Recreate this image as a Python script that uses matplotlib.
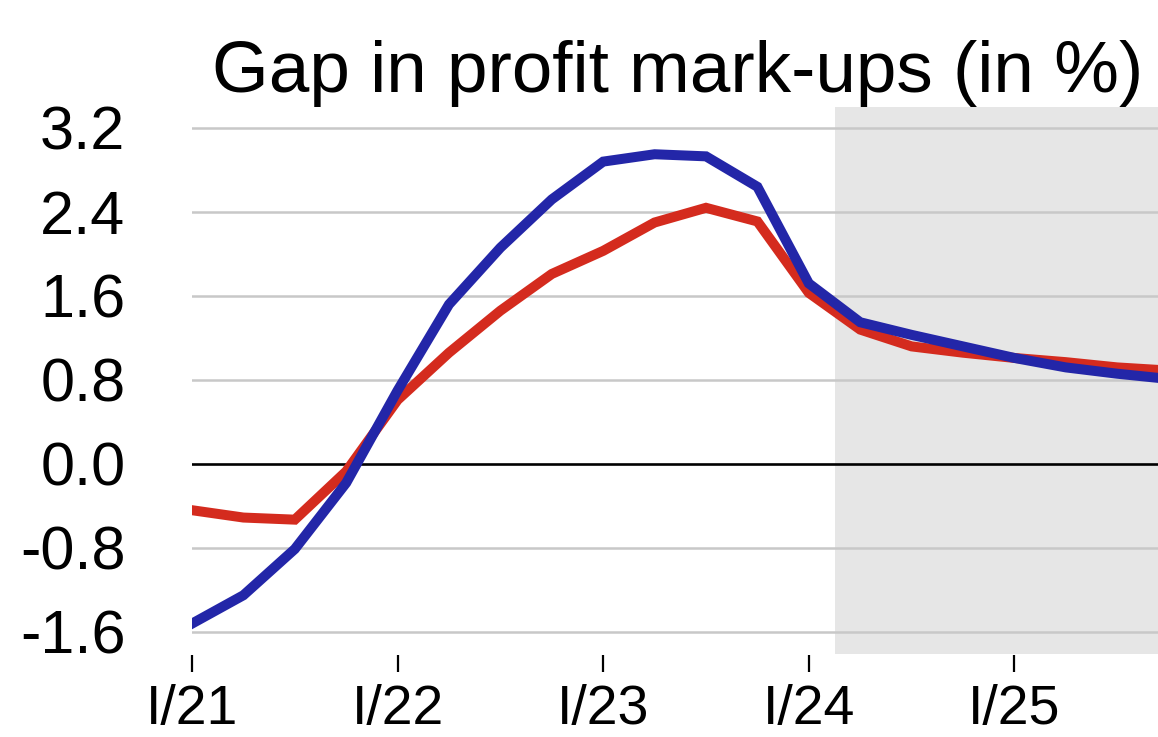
import matplotlib
matplotlib.use("Agg")
import matplotlib.pyplot as plt
import numpy as np

plt.rcParams['font.family'] = ['Liberation Sans', 'DejaVu Sans']

quarters = np.arange(20)  # I/21 ... IV/25
blue_values = [-1.52, -1.25, -0.81, -0.18, 0.70, 1.52, 2.06, 2.52, 2.88, 2.95, 2.93, 2.64,
               1.72, 1.35, 1.23, 1.12, 1.01, 0.92, 0.86, 0.81]
red_values = [-0.44, -0.51, -0.53, -0.07, 0.61, 1.06, 1.46, 1.81, 2.03, 2.30, 2.44, 2.31,
              1.63, 1.28, 1.12, 1.06, 1.01, 0.97, 0.92, 0.89]
year_ticks = [0, 4, 8, 12, 16]
year_labels = ["I/21", "I/22", "I/23", "I/24", "I/25"]
y_ticks = [3.2, 2.4, 1.6, 0.8, 0.0, -0.8, -1.6]
y_labels = ["3.2", "2.4", "1.6", "0.8", "0.0", "-0.8", "-1.6"]
forecast_start = 12.5
title = "Gap in profit mark-ups (in %)"

fig = plt.figure(figsize=(11.58, 7.37), dpi=100)
ax = fig.add_axes([192/1158, (737-654)/737, 1 - 192/1158, (654-107)/737])

for s in ax.spines.values():
    s.set_visible(False)
ax.spines['bottom'].set_position(('outward', 1))

ax.axvspan(forecast_start, 30, color='#E6E6E6', zorder=0, lw=0)
for y in y_ticks:
    if y == 0:
        ax.axhline(0, color='black', lw=1.9, zorder=2)
    else:
        ax.axhline(y, color='#C8C8C8', lw=1.8, zorder=1)

ax.plot(quarters, red_values, color='#D42B1E', lw=7.2, zorder=3, solid_joinstyle='miter')
ax.plot(quarters, blue_values, color='#2326A8', lw=7.2, zorder=4, solid_joinstyle='miter')

ax.set_xlim(0, (1158-192)/51.4)
ax.set_ylim(-(654-464)/105, (464-107)/105)

ax.set_xticks(year_ticks)
ax.set_xticklabels(year_labels, fontsize=40)
ax.set_yticks(y_ticks)
ax.set_yticklabels(y_labels, fontsize=44)

ax.tick_params(axis='x', length=12.5, width=1.6, direction='out', pad=8, color='black')
ax.tick_params(axis='y', length=0, pad=48)
ax.set_facecolor('white')

fig.text(1143/1158, 1 - 92/737, title, fontsize=52.5, ha='right', va='baseline')

fig.savefig("out.png", dpi=100)
